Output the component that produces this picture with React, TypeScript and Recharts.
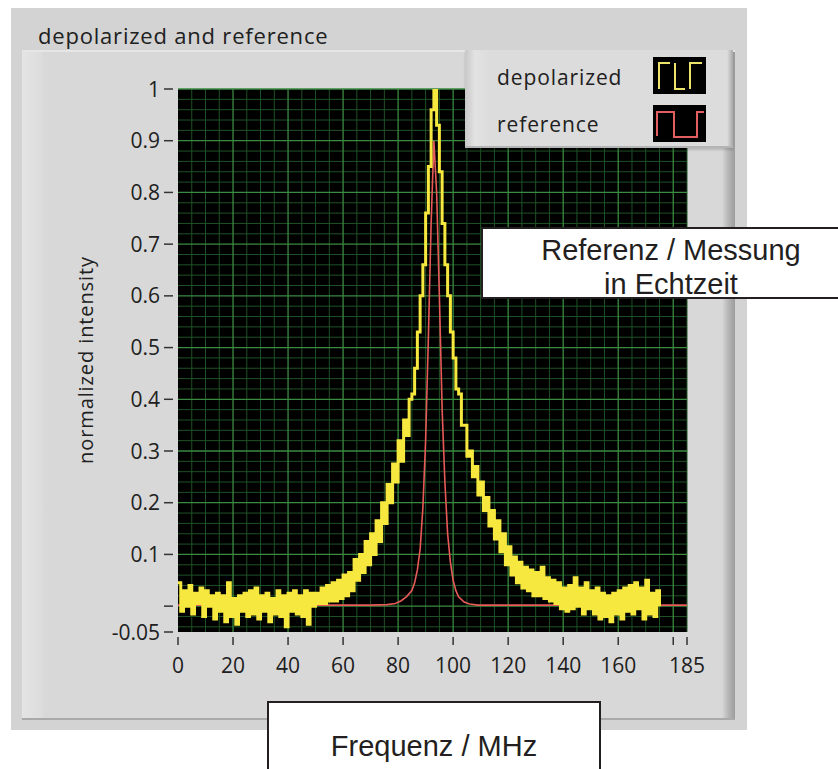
import { LineChart, Line, XAxis, YAxis, CartesianGrid } from 'recharts';

// depolarized trace, one reading per MHz from 0 to 175
const depolarizedFreq = Array.from({ length: 176 }, (_, i) => i);
const depolarizedValues = [
    0.045, -0.01, 0.03, 0.0, 0.04, -0.015, 0.025, 0.005, 0.035, -0.02,
    0.03, 0.0, 0.02, -0.025, 0.025, -0.01, 0.02, -0.03, 0.045, -0.02,
    0.015, -0.035, 0.02, -0.01, 0.025, -0.02, 0.03, -0.015, 0.035, -0.025,
    0.02, -0.01, 0.025, -0.03, 0.015, -0.015, 0.03, -0.02, 0.02, -0.04,
    0.025, -0.01, 0.03, -0.015, 0.02, -0.02, 0.03, -0.035, 0.025, 0.0,
    0.025, 0.005, 0.035, 0.005, 0.04, 0.01, 0.045, 0.01, 0.05, 0.015,
    0.06, 0.02, 0.065, 0.03, 0.09, 0.05, 0.1, 0.065, 0.125, 0.08,
    0.14, 0.1, 0.165, 0.125, 0.2, 0.16, 0.235, 0.2, 0.275, 0.24,
    0.32, 0.28, 0.36, 0.33, 0.4, 0.41, 0.46, 0.53, 0.6, 0.66,
    0.76, 0.85, 0.96, 1.0, 0.93, 0.84, 0.74, 0.66, 0.6, 0.53,
    0.48, 0.42, 0.41, 0.35, 0.35, 0.29, 0.3, 0.25, 0.27, 0.215,
    0.24, 0.185, 0.21, 0.155, 0.185, 0.13, 0.165, 0.105, 0.14, 0.08,
    0.115, 0.06, 0.095, 0.045, 0.085, 0.035, 0.075, 0.03, 0.07, 0.02,
    0.065, 0.02, 0.075, 0.015, 0.055, 0.01, 0.05, 0.005, 0.045, -0.005,
    0.035, -0.01, 0.04, -0.005, 0.055, 0.0, 0.035, -0.015, 0.045, -0.005,
    0.03, -0.015, 0.035, -0.025, 0.025, -0.02, 0.02, -0.03, 0.025, -0.015,
    0.03, -0.025, 0.035, -0.01, 0.04, -0.015, 0.045, -0.005, 0.035, -0.025,
    0.05, -0.015, 0.025, -0.02, 0.03, 0.0,
];

// reference trace
const referenceFreq = [0, 20, 40, 60, 70, 76, 79, 81, 83, 85, 86, 87, 88, 89, 90, 91, 92, 93, 94, 95, 96, 97, 98, 99, 100, 101, 102, 104, 106, 109, 115, 130, 150, 170, 185];
const referenceValues = [0.002, 0.002, 0.002, 0.002, 0.002, 0.003, 0.005, 0.01, 0.018, 0.03, 0.045, 0.07, 0.11, 0.19, 0.32, 0.52, 0.74, 0.9, 0.8, 0.6, 0.38, 0.24, 0.14, 0.085, 0.05, 0.03, 0.018, 0.008, 0.004, 0.002, 0.002, 0.002, 0.002, 0.002, 0.002];

const xTickValues = [0, 20, 40, 60, 80, 100, 120, 140, 160, 180, 185];
const xTickLabels = ['0', '20', '40', '60', '80', '100', '120', '140', '160', '', '185'];
const yTickValues = [-0.05, 0, 0.1, 0.2, 0.3, 0.4, 0.5, 0.6, 0.7, 0.8, 0.9, 1];
const yTickLabels = ['-0.05', '', '0.1', '0.2', '0.3', '0.4', '0.5', '0.6', '0.7', '0.8', '0.9', '1'];

const depolarizedData = depolarizedFreq.map((f, i) => ({ f, v: depolarizedValues[i] }));
const referenceData = referenceFreq.map((f, i) => ({ f, v: referenceValues[i] }));

// grid: minor every 5 MHz / 0.02, major every 20 MHz / 0.1
const minorX = Array.from({ length: 37 }, (_, i) => (i + 1) * 5).filter((v) => v % 20 !== 0);
const majorX = Array.from({ length: 9 }, (_, i) => (i + 1) * 20);
const minorY = Array.from({ length: 52 }, (_, i) => (i - 2) / 50).filter((_, i) => (i - 2) % 5 !== 0);
const majorY = Array.from({ length: 11 }, (_, i) => i / 10);

const FONT = '"Open Sans", "Noto Sans", sans-serif';
const TEXT = '#202020';

const XTick = ({ x, y, payload }: any) => {
    const label = xTickLabels[xTickValues.indexOf(payload.value)];
    return (
        <g>
            <line x1={x} x2={x} y1={y + 5} y2={y + 13} stroke="#333" strokeWidth={1.5} />
            <text x={x} y={y + 41} textAnchor="middle" fontFamily={FONT} fontSize={21} fill={TEXT}>{label}</text>
        </g>
    );
};

const YTick = ({ x, y, payload }: any) => {
    const label = yTickLabels[yTickValues.indexOf(payload.value)];
    return (
        <g>
            <line x1={x - 14} x2={x - 5} y1={y} y2={y} stroke="#333" strokeWidth={1.5} />
            <text x={x - 18} y={y + 7.5} textAnchor="end" fontFamily={FONT} fontSize={21} fill={TEXT}>{label}</text>
        </g>
    );
};

const abs = (left: number, top: number, extra: any = {}) => ({ position: 'absolute' as const, left, top, ...extra });

export default function App() {
    return (
        <div style={{ position: 'absolute', left: 0, top: 0, width: 838, height: 769, overflow: 'hidden', background: '#fff' }}>
            {/* LabVIEW style panel */}
            <div style={abs(11, 8, { width: 736, height: 722, background: '#d3d3d3' })} />
            <div style={abs(22, 50, {
                width: 713, height: 670, background: 'linear-gradient(90deg, #e4e4e4 0px, #dcdcdc 20px, #d8d8d8 22px, #d8d8d8 700px, #b8b8b8 706px, #9c9c9c 713px)',
                borderTop: '2px solid #e6e6e6', borderBottom: '2px solid #a9a9a9', boxSizing: 'border-box',
            })} />
            <div style={abs(38, 20, { fontFamily: FONT, fontSize: 22, letterSpacing: 0.8, color: TEXT, lineHeight: '30px' })}>depolarized and reference</div>
            <div style={abs(85, 360, { fontFamily: FONT, fontSize: 20, letterSpacing: 0.9, color: TEXT, transform: 'translate(-50%, -50%) rotate(-90deg)', whiteSpace: 'nowrap' })}>normalized intensity</div>

            <div style={abs(0, 0)}>
                <LineChart width={838} height={769} margin={{ top: 89, right: 151, bottom: 87, left: 108 }}>
                    <CartesianGrid fill="#000" fillOpacity={1} stroke="#1e5226" strokeWidth={1} verticalValues={minorX} horizontalValues={minorY} />
                    <CartesianGrid stroke="#3a8a40" strokeWidth={1.3} verticalValues={majorX} horizontalValues={majorY} />
                    <XAxis type="number" dataKey="f" domain={[0, 185]} ticks={xTickValues} interval={0} height={50}
                        axisLine={false} tickLine={false} tickSize={0} tickMargin={0} tick={<XTick />} allowDataOverflow />
                    <YAxis type="number" dataKey="v" domain={[-0.05, 1]} ticks={yTickValues} interval={0} width={70}
                        axisLine={false} tickLine={false} tickSize={0} tickMargin={0} tick={<YTick />} allowDataOverflow />
                    <Line data={referenceData} dataKey="v" type="linear" stroke="#e85a58" strokeWidth={1.6}
                        dot={false} activeDot={false} isAnimationActive={false} />
                    <Line data={depolarizedData} dataKey="v" type="stepAfter" stroke="#f6e83e" strokeWidth={3}
                        dot={false} activeDot={false} isAnimationActive={false} />
                </LineChart>
            </div>

            {/* legend */}
            <div style={abs(465, 50, {
                width: 268, height: 98, boxSizing: 'border-box',
                background: 'linear-gradient(90deg, #c8c8c8 0px, #e2e2e2 10px, #dcdcdc 24px, #dcdcdc 262px, #a8a8a8 268px)',
                borderBottom: '2px solid #b4b4b4', boxShadow: '0 2px 2px rgba(0,0,0,0.15)',
            })}>
                <div style={abs(32, 12, { fontFamily: FONT, fontSize: 21, letterSpacing: 0.9, color: TEXT, lineHeight: '30px' })}>depolarized</div>
                <div style={abs(32, 59, { fontFamily: FONT, fontSize: 21, letterSpacing: 0.9, color: TEXT, lineHeight: '30px' })}>reference</div>
                <svg style={abs(188, 7)} width={53} height={37}>
                    <rect width={53} height={37} fill="#000" />
                    <path d="M6 32 V6 H17 M22 6 V32 H32 M37 32 V6 H49" fill="none" stroke="#ece46a" strokeWidth={2} />
                </svg>
                <svg style={abs(188, 55)} width={53} height={37}>
                    <rect width={53} height={37} fill="#000" />
                    <path d="M4 31 V7 H21 V32 H44 V7 H51" fill="none" stroke="#e35f5f" strokeWidth={2} />
                </svg>
            </div>

            {/* annotation boxes */}
            <div style={abs(481, 227, {
                width: 420, height: 72, boxSizing: 'border-box', background: '#fff', border: '2px solid #231f20',
            })}>
                <div style={abs(0, 4, { width: 376, textAlign: 'center', fontFamily: '"Liberation Sans", Arial, sans-serif', fontSize: 29, color: '#231f20', lineHeight: '34px' })}>
                    Referenz / Messung<br />in Echtzeit
                </div>
            </div>
            <div style={abs(267, 701, {
                width: 334, height: 100, boxSizing: 'border-box', background: '#fff', border: '2px solid #231f20',
            })}>
                <div style={abs(0, 26, { width: 330, textAlign: 'center', fontFamily: '"Liberation Sans", Arial, sans-serif', fontSize: 29, color: '#231f20', lineHeight: '34px' })}>
                    Frequenz / MHz
                </div>
            </div>
        </div>
    );
}
